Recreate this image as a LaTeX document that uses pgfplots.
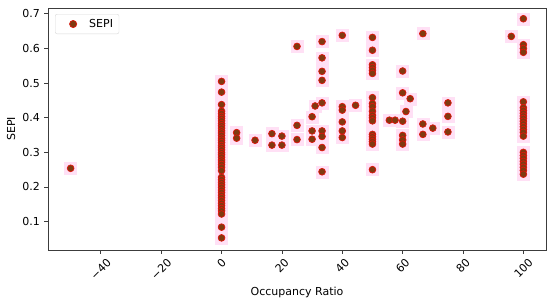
\documentclass[border=0pt]{standalone}
\usepackage{fontspec}
\setmainfont{DejaVu Sans}
\usepackage{pgfplots}
\usepackage{pgfplotstable}
\pgfplotsset{compat=1.18}

\definecolor{dotfill}{RGB}{128,58,16}
\definecolor{dotedge}{RGB}{222,22,12}
\definecolor{halo}{RGB}{255,224,245}
\definecolor{spine}{RGB}{60,60,60}

% occupancy ratio vs SEPI
\pgfplotstableread{
x y
-50 0.254
0 0.505
0 0.474
0 0.438
0 0.419
0 0.412
0 0.404
0 0.398
0 0.391
0 0.383
0 0.377
0 0.370
0 0.362
0 0.356
0 0.349
0 0.341
0 0.335
0 0.328
0 0.320
0 0.314
0 0.307
0 0.299
0 0.293
0 0.286
0 0.278
0 0.272
0 0.265
0 0.257
0 0.247
0 0.228
0 0.221
0 0.213
0 0.206
0 0.199
0 0.191
0 0.184
0 0.176
0 0.169
0 0.161
0 0.153
0 0.146
0 0.138
0 0.131
0 0.122
0 0.084
0 0.053
5 0.357
5 0.341
11.1 0.335
16.7 0.354
16.7 0.321
20 0.347
20 0.321
25 0.606
25 0.378
25 0.337
30 0.403
30 0.362
30 0.338
31 0.434
33.3 0.620
33.3 0.573
33.3 0.534
33.3 0.508
33.3 0.443
33.3 0.362
33.3 0.346
33.3 0.314
33.3 0.244
40 0.638
40 0.432
40 0.422
40 0.388
40 0.362
40 0.343
44.4 0.436
50 0.632
50 0.595
50 0.553
50 0.545
50 0.537
50 0.528
50 0.458
50 0.441
50 0.432
50 0.419
50 0.407
50 0.400
50 0.391
50 0.352
50 0.345
50 0.338
50 0.331
50 0.324
50 0.250
55.6 0.393
57.5 0.393
60 0.535
60 0.472
60 0.390
60 0.349
60 0.336
60 0.324
61.1 0.418
62.5 0.455
66.7 0.643
66.7 0.382
66.7 0.352
70 0.370
75 0.443
75 0.404
75 0.359
96 0.635
100 0.686
100 0.611
100 0.600
100 0.589
100 0.446
100 0.429
100 0.421
100 0.413
100 0.405
100 0.398
100 0.390
100 0.382
100 0.374
100 0.366
100 0.358
100 0.347
100 0.300
100 0.291
100 0.283
100 0.274
100 0.266
100 0.257
100 0.248
100 0.237
}\sepi

\begin{document}
\begin{tikzpicture}[font=\fontsize{11}{13}\selectfont]
\begin{axis}[
    scale only axis,
    width=498pt,
    height=242pt,
    xmin=-57.5, xmax=107.5,
    ymin=0.018, ymax=0.717,
    xtick={-40,-20,0,20,40,60,80,100},
    xticklabels={\rotatebox{45}{−40},\rotatebox{45}{−20},\rotatebox{45}{0},\rotatebox{45}{20},\rotatebox{45}{40},\rotatebox{45}{60},\rotatebox{45}{80},\rotatebox{45}{100}},
    xticklabel style={anchor=north, inner sep=0pt, yshift=-4pt},
    ytick={0.1,0.2,0.3,0.4,0.5,0.6,0.7},
    yticklabels={0.1,0.2,0.3,0.4,0.5,0.6,0.7},
    yticklabel style={anchor=east, inner sep=0pt, xshift=-4pt},
    tick align=outside,
    major tick length=3.9pt,
    xtick pos=bottom, ytick pos=left,
    axis line style={spine, line width=0.8pt},
    tick style={spine, line width=0.8pt},
    xlabel={Occupancy Ratio},
    ylabel={SEPI},
    xlabel style={at={(axis description cs:0.5,0)}, anchor=north, inner sep=0pt, yshift=-37pt},
    ylabel style={inner sep=0pt},
    ylabel shift=7pt,
    legend style={at={(0,1)}, anchor=north west, xshift=7pt, yshift=-6pt,
        draw=black!15, rounded corners=2pt, fill=white, inner xsep=4pt, inner ysep=3pt,
        font=\fontsize{11}{13}\selectfont},
    legend image code/.code={\path[draw=none, fill=none] (0pt,-3pt) rectangle (28pt,3pt); \node[circle, inner sep=0pt, minimum size=7.2pt, fill=dotfill, draw=dotedge, line width=0.7pt] at (10pt,0pt) {};},
    legend cell align=left,
    clip=false,
]
\addplot[only marks, mark=square*, mark size=6pt, color=halo,
    mark options={fill=halo, draw=halo}, forget plot] table[x=x, y=y] {\sepi};
\addplot[only marks, mark=*, mark size=3.4pt,
    mark options={fill=dotfill, draw=dotedge, line width=0.7pt}] table[x=x, y=y] {\sepi};
\addlegendentry{SEPI}
\end{axis}
\pgfresetboundingbox
\path ([xshift=-48pt,yshift=-53pt]current axis.south west) rectangle ([xshift=4pt,yshift=8pt]current axis.north east);
\end{tikzpicture}
\end{document}
